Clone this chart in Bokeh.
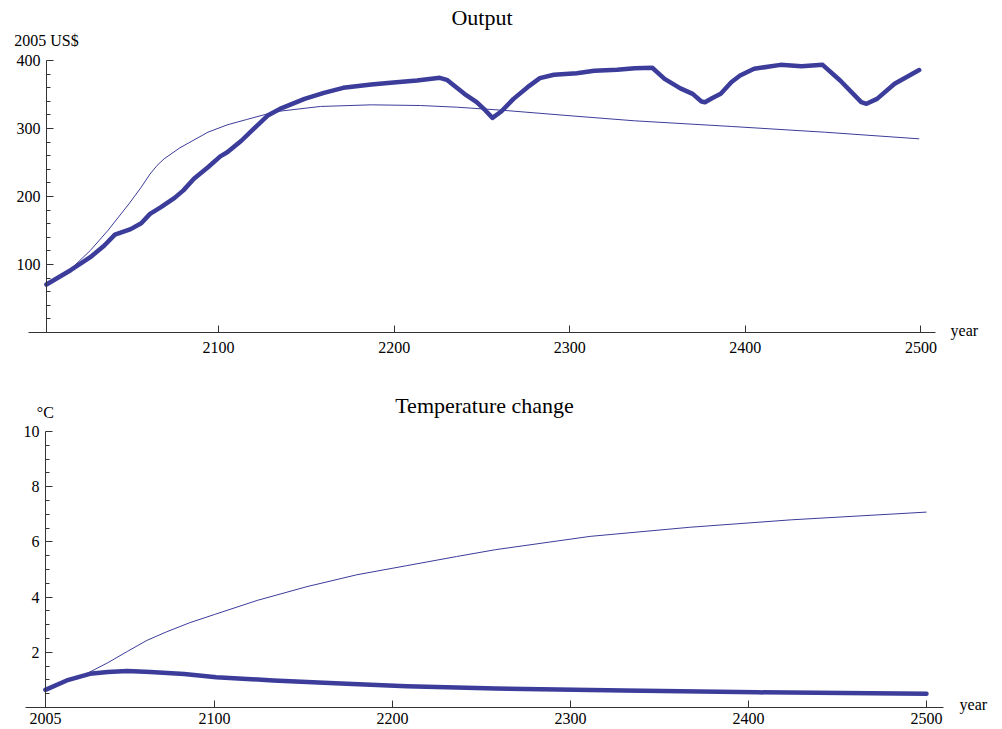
from bokeh.plotting import figure
from bokeh.layouts import column
from bokeh.models import Range1d, FixedTicker, Label
from bokeh.embed import file_html
from bokeh.resources import INLINE

# ---------------- data ----------------
# Output, 2005 US$
out_years = [2002, 2016, 2027, 2035, 2041, 2050, 2056, 2061, 2067, 2075, 2080, 2086,
             2094, 2101, 2105, 2113, 2120, 2128, 2136, 2149, 2160, 2171, 2187, 2198,
             2213, 2226, 2230, 2240, 2247, 2252, 2256, 2261, 2268, 2276, 2283, 2291,
             2304, 2314, 2327, 2337, 2347, 2354, 2363, 2370, 2375, 2377, 2381, 2386,
             2392, 2397, 2405, 2420, 2432, 2444, 2454, 2466, 2469, 2475, 2485, 2499]
out_thick = [70.6, 92, 110.7, 128, 144, 152, 160.7, 174.5, 184, 198, 209, 226,
             243, 259, 265, 282, 299.5, 319, 330, 343.6, 352.4, 359.8, 364.7, 367.2,
             370.6, 374.5, 371.6, 351, 338.7, 326.5, 315.7, 325, 343.6, 360.8, 374, 379,
             381.3, 384.8, 386.3, 388.7, 389.3, 373, 359, 351, 339.7, 338.7, 344.6, 351,
             368, 378, 387.8, 393.6, 391.6, 393.6, 370.6, 338.7, 336.3, 343.6, 365.7, 386]
out_base_years = [2002, 2016, 2027, 2037, 2049, 2056, 2061, 2065, 2069, 2078, 2094,
                  2105, 2116, 2128, 2135, 2158, 2187, 2215, 2236, 2261, 2299, 2337,
                  2392, 2445, 2499]
out_thin = [70.6, 93.6, 120.6, 150, 189.2, 213.7, 233, 245.6, 255.4, 271.6, 294.6,
            305.4, 313.2, 321.6, 325.5, 332.4, 334.8, 333.8, 331.3, 327, 319, 311.3,
            303, 294.6, 284.8]

# Temperature change, deg C
temp_years = [2005, 2017, 2030, 2040, 2051, 2064, 2083, 2101, 2133, 2171, 2208,
              2258, 2330, 2405, 2500]
temp_thick = [0.64, 0.98, 1.22, 1.29, 1.32, 1.29, 1.21, 1.10, 0.98, 0.87, 0.77,
              0.69, 0.62, 0.55, 0.50]
temp_base_years = [2005, 2017, 2028, 2040, 2051, 2062, 2073, 2086, 2100, 2124, 2152,
                   2180, 2208, 2236, 2258, 2311, 2367, 2424, 2500]
temp_thin = [0.64, 0.98, 1.22, 1.62, 2.03, 2.43, 2.74, 3.07, 3.37, 3.88, 4.38,
             4.81, 5.14, 5.47, 5.72, 6.20, 6.53, 6.80, 7.08]

out_xticks = [2100, 2200, 2300, 2400, 2500]
out_yticks = [100, 200, 300, 400]
out_yminor = [v for v in range(20, 400, 20) if v % 100]
temp_xticks = [2005, 2100, 2200, 2300, 2400, 2500]
temp_yticks = [2, 4, 6, 8, 10]
temp_yminor = [v / 2 for v in range(1, 20) if v % 4]

# ---------------- style ----------------
FONT = "Liberation Serif"
LINE = "#3c3c9a"
AXIS = "#333333"


def make_fig(height, xr, yr, xbounds, ybounds, xloc, xticks, yticks, yminor, xstand):
    p = figure(width=1000, height=height, x_range=xr, y_range=yr,
               output_backend="svg", toolbar_location=None, min_border=0)
    p.grid.visible = False
    p.outline_line_color = None
    p.background_fill_color = "white"
    p.border_fill_color = "white"
    xa, ya = p.xaxis[0], p.yaxis[0]
    for ax in (xa, ya):
        ax.axis_line_color = AXIS
        ax.major_tick_line_color = AXIS
        ax.minor_tick_line_color = AXIS
        ax.major_tick_in = 7
        ax.major_tick_out = 0
        ax.minor_tick_in = 4
        ax.minor_tick_out = 0
        ax.major_label_text_font = FONT
        ax.major_label_text_font_size = "16px"
        ax.major_label_text_color = "black"
    xa.ticker = FixedTicker(ticks=xticks, minor_ticks=[])
    ya.ticker = FixedTicker(ticks=yticks, minor_ticks=yminor)
    xa.fixed_location = 0
    ya.fixed_location = xloc
    xa.bounds = xbounds
    ya.bounds = ybounds
    xa.major_label_standoff = xstand
    ya.major_label_standoff = 6
    return p


def label(p, text, x, y, xo, yo, align, size="16px"):
    p.add_layout(Label(x=x, y=y, x_offset=xo, y_offset=yo, text=text,
                       text_font=FONT, text_font_size=size, text_color="black",
                       text_align=align, text_baseline="alphabetic"))


# ---------------- Output ----------------
out_xb = (1991.8, 2508.3)
p1 = make_fig(368, Range1d(1975.85, 2545.3), Range1d(-52.94, 488.24),
              out_xb, (0, 400), out_years[0], out_xticks, out_yticks, out_yminor, 9)
p1.line(out_base_years, out_thin, line_color=LINE, line_width=1)
p1.line(out_years, out_thick, line_color=LINE, line_width=4.5,
        line_join="round", line_cap="round")
label(p1, "Output", sum(out_xb) / 2, 400, 0, 43, "center", "22px")
label(p1, "2005 US$", out_years[0], 400, 0, 20, "center")
label(p1, "year", out_xb[1], 0, 15, 2, "left")

# ---------------- Temperature change ----------------
temp_xb = (1993.8, 2509.6)
p2 = make_fig(361, Range1d(1979.78, 2541.57), Range1d(-0.797, 12.283),
              temp_xb, (0, 10), temp_years[0], temp_xticks, temp_yticks, temp_yminor, 5)
p2.line(temp_base_years, temp_thin, line_color=LINE, line_width=1)
p2.line(temp_years, temp_thick, line_color=LINE, line_width=4.5,
        line_join="round", line_cap="round")
label(p2, "Temperature change", sum(temp_xb) / 2, 10, 0, 26, "center", "22px")
label(p2, "°C", temp_years[0], 10, 0, 19, "center")
label(p2, "year", temp_xb[1], 0, 16, 3, "left")

layout = column(p1, p2)
open("out.html", "w").write(file_html(layout, INLINE))
